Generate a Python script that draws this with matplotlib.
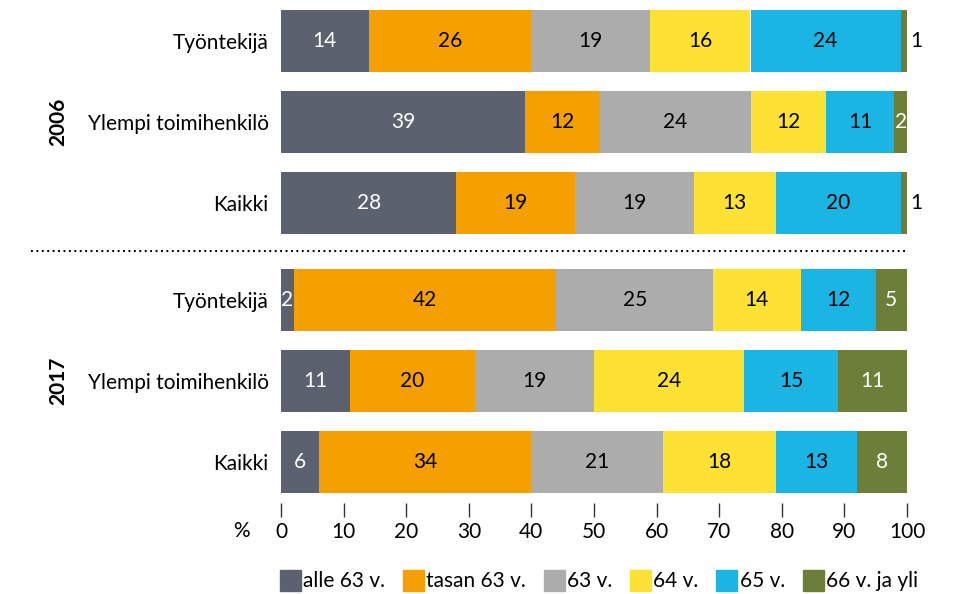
import matplotlib.pyplot as plt
from matplotlib.patches import Patch

plt.rcParams['font.family'] = ['Lato', 'DejaVu Sans']

# data
rows = ['Työntekijä', 'Ylempi toimihenkilö', 'Kaikki',
        'Työntekijä', 'Ylempi toimihenkilö', 'Kaikki']
years = ['2006', '2017']
series = ['alle 63 v.', 'tasan 63 v.', '63 v.', '64 v.', '65 v.', '66 v. ja yli']
alle63 = [14, 39, 28, 2, 11, 6]
tasan63 = [26, 12, 19, 42, 20, 34]
v63 = [19, 24, 19, 25, 19, 21]
v64 = [16, 12, 13, 14, 24, 18]
v65 = [24, 11, 20, 12, 15, 13]
v66 = [1, 2, 1, 5, 11, 8]
xticks = [0, 10, 20, 30, 40, 50, 60, 70, 80, 90, 100]

colors = ['#5c6170', '#f4a000', '#acacac', '#fee233', '#1bb5e3', '#6c7e37']
text_colors = ['white', 'black', 'black', 'black', 'black', 'white']
values = [alle63, tasan63, v63, v64, v65, v66]

ypos = [0, 1, 2, 3.2, 4.2, 5.2]
fs = 15

fig = plt.figure(figsize=(9.59, 5.94), dpi=100)
ax = fig.add_axes([281/959, 1 - 503/594, 626/959, 503/594])

left = [0] * len(rows)
for vals, col, tc, name in zip(values, colors, text_colors, series):
    ax.barh(ypos, vals, left=left, height=0.77, color=col, label=name)
    for y, v, l in zip(ypos, vals, left):
        if v <= 1:
            ax.text(l + v + 0.6, y, str(v), ha='left', va='center',
                    fontsize=fs, color='black')
        else:
            ax.text(l + v / 2, y, str(v), ha='center', va='center',
                    fontsize=fs, color=tc)
    left = [a + b for a, b in zip(left, vals)]

ax.set_xlim(0, 100)
ax.set_ylim(5.2 + 41/80.96, -41/80.96)
ax.set_yticks(ypos)
ax.set_yticklabels(rows, fontsize=fs)
ax.set_xticks(xticks)
ax.set_xticklabels([str(t) for t in xticks], fontsize=fs)
ax.tick_params(axis='y', length=0, pad=9)
ax.tick_params(axis='x', length=10, width=1, color='#333333', pad=4)
for s in ax.spines.values():
    s.set_visible(False)

# separator and year labels
ax.plot([-40, 99.7], [2.594, 2.594], ls=(0, (0.9, 1.7)), color='black', lw=1.5, clip_on=False)
ax.text(-35.6, 1, years[0], rotation=90, ha='center', va='center',
        fontsize=fs, fontweight='bold')
ax.text(-35.6, 4.2, years[1], rotation=90, ha='center', va='center',
        fontsize=fs, fontweight='bold')
ax.text(-6.3, 5.2 + (531 - 462)/80.96, '%', ha='center', va='center', fontsize=fs)

handles = [Patch(color=c) for c in colors]
fig.legend(handles, series, loc='lower center', bbox_to_anchor=(0.6246, -0.027),
           ncol=6, frameon=False, fontsize=fs, handlelength=1.0, handleheight=1.15,
           handletextpad=0.12, columnspacing=0.85)

fig.savefig('out.png', dpi=100)
